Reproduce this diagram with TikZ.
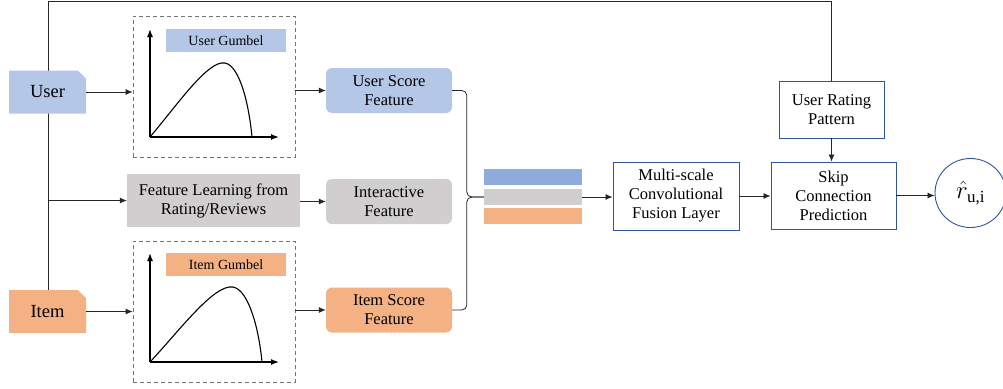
\documentclass[tikz,border=0pt]{standalone}
\usepackage{fontspec}
\setmainfont{Liberation Serif}
\usetikzlibrary{arrows.meta,shapes.misc,shapes.geometric,calc}
\definecolor{cblue}{HTML}{B4C7E7}
\definecolor{cbar}{HTML}{8FAADC}
\definecolor{corange}{HTML}{F4B183}
\definecolor{cgray}{HTML}{D0CECE}
\definecolor{cborder}{HTML}{2F5597}
\definecolor{cline}{HTML}{262626}
\begin{document}
\begin{tikzpicture}[x=1pt,y=-1pt,
  arr/.style={draw=cline,line width=0.8pt,-{Latex[length=7pt,width=6pt]}},
  ln/.style={draw=cline,line width=0.8pt},
  io/.style={chamfered rectangle,chamfered rectangle corners=north east,chamfered rectangle xsep=5pt,
     inner sep=0pt,minimum width=77pt,minimum height=43pt,font=\fontsize{18.5}{21}\selectfont},
  dbox/.style={draw=black!55,dash pattern=on 4pt off 3pt,line width=0.8pt,minimum width=162pt,minimum height=141pt,inner sep=0pt},
  glab/.style={minimum width=120pt,minimum height=23pt,inner sep=0pt,font=\fontsize{14}{16}\selectfont},
  feat/.style={rounded corners=6pt,minimum width=126pt,minimum height=45pt,inner sep=0pt,align=center,
     font=\fontsize{16.5}{19}\selectfont},
  bbox/.style={draw=cborder,line width=0.9pt,inner sep=0pt,align=center,font=\fontsize{16.5}{19}\selectfont},
  bar/.style={minimum width=98pt,minimum height=16pt,inner sep=0pt},
  axis/.style={line width=1.4pt,-{Latex[length=8pt,width=6pt]}},
  curve/.style={line width=1.1pt}
]
\useasboundingbox (0,0) rectangle (1003,388);
% trunk coordinate
\coordinate (tl) at (48,1);

% dashed boxes (drawn first)
\node[dbox] (ud) at (214,86.5) {};
\node[dbox] (id) at (214,311.5) {};

% trunk line behind the input nodes
\node[bbox,minimum width=105pt,minimum height=57pt] (urp) at (831.5,109.5) {User Rating\\Pattern};
\draw[ln] (tl |- 0,290) -- (tl) -| (urp.north);

% inputs
\node[io,fill=cblue] (user) at (47.5,92) {User};
\node[io,fill=corange] (item) at (47.5,311.5) {Item};

% gumbel labels
\node[glab,fill=cblue] (ugl) at (226,40.5) {User Gumbel};
\node[glab,fill=corange] (igl) at (226,264.5) {Item Gumbel};

% axes and curves
\draw[axis] (150,137) -- (150,29);
\draw[axis] (150,137) -- (279,137);
\draw[curve] (150,137) .. controls (178,104) and (208,60) .. (225,63)
   .. controls (240,66) and (249,105) .. (252,137);
\draw[axis] (150,362) -- (150,253);
\draw[axis] (150,362) -- (279,362);
\draw[curve] (150,362) .. controls (180,330) and (214,284) .. (233,287)
   .. controls (249,290) and (259,330) .. (262,362);

% feature learning
\node[fill=cgray,minimum width=173pt,minimum height=53pt,inner sep=0pt,align=center,
   font=\fontsize{16.5}{19}\selectfont] (fl) at (213.5,200.5) {Feature Learning from\\Rating/Reviews};

% features
\node[feat,fill=cblue] (usf) at (389,90.5) {User Score\\Feature};
\node[feat,fill=cgray] (inf) at (389,201.5) {Interactive\\Feature};
\node[feat,fill=corange] (isf) at (389,310) {Item Score\\Feature};

% bars
\node[bar,fill=cbar] (barb) at (533,177) {};
\node[bar,fill=cgray] (barg) at (533,197) {};
\node[bar,fill=corange] (baro) at (533,216) {};

% processing boxes
\node[bbox,minimum width=126pt,minimum height=68pt] (msc) at (676,196) {Multi-scale\\Convolutional\\Fusion Layer};
\node[bbox,minimum width=125pt,minimum height=67pt] (scp) at (833.5,195.5) {Skip\\Connection\\Prediction};
\node[ellipse,draw=cborder,line width=0.9pt,minimum width=71pt,minimum height=69pt,inner sep=0pt,
   font=\fontsize{24}{26}\selectfont] (out) at (970.5,193) {$\hat{r}_{\textrm{\fontsize{17}{19}\selectfont u,i}}$};

% connectors
\draw[arr] (user.east) -- (ud.west |- user.east);
\draw[arr] (item.east) -- (id.west |- item.east);
\draw[arr] (tl |- fl.west) -- (fl.west);
\draw[arr] (ud.east |- usf.west) -- (usf.west);
\draw[arr] (fl.east |- inf.west) -- (inf.west);
\draw[arr] (id.east |- isf.west) -- (isf.west);
\draw[ln,rounded corners=5pt] (usf.east) -| ($(barg.west)+(-17,0)$) -- (barg.west);
\draw[ln,rounded corners=5pt] (isf.east) -| ($(barg.west)+(-17,0)$) -- (barg.west);
\draw[arr] (barg.east) -- (msc.west |- barg.east);
\draw[arr] (msc.east) -- (scp.west |- msc.east);
\draw[arr] (urp.south) -- (urp.south |- scp.north);
\draw[arr] (scp.east) -- (out.west |- scp.east);
\end{tikzpicture}
\end{document}
